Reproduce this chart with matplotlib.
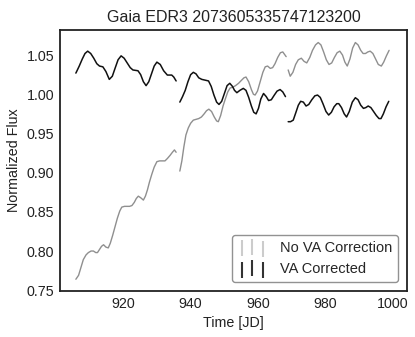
import matplotlib
matplotlib.use('Agg')
import matplotlib.pyplot as plt

# light curve, three sectors each
gray_t1 = [906.0, 906.8, 907.5, 908.2, 909.0, 909.7, 910.5, 911.2, 911.9, 912.4, 913.0, 913.6, 914.2,
           914.9, 915.6, 916.2, 916.9, 917.6, 918.3, 919.0, 919.6, 920.4, 921.1, 921.9, 922.6, 923.3,
           923.9, 924.5, 925.2, 926.0, 926.6, 927.2, 927.8, 928.5, 929.2, 930.0, 930.8, 931.6, 932.4,
           933.1, 933.9, 934.6, 935.2, 935.7]
gray_f1 = [0.764, 0.769, 0.779, 0.789, 0.795, 0.798, 0.800, 0.800, 0.798, 0.798, 0.802, 0.806, 0.808,
           0.805, 0.804, 0.810, 0.820, 0.831, 0.842, 0.851, 0.856, 0.857, 0.857, 0.857, 0.858, 0.862,
           0.867, 0.870, 0.868, 0.865, 0.870, 0.878, 0.888, 0.898, 0.907, 0.914, 0.915, 0.915, 0.915,
           0.918, 0.922, 0.926, 0.929, 0.926]
gray_t2 = [936.8, 937.4, 938.0, 938.6, 939.3, 940.0, 940.8, 941.6, 942.4, 943.2, 944.0, 944.7, 945.4,
           946.2, 947.0, 947.7, 948.2, 948.9, 949.6, 950.2, 951.0, 951.7, 952.5, 953.3, 954.2, 955.1,
           955.8, 956.4, 957.2, 958.0, 958.6, 959.1, 959.8, 960.6, 961.4, 962.1, 962.8, 963.6, 964.3,
           965.0, 965.8, 966.6, 967.3, 968.3]
gray_f2 = [0.902, 0.915, 0.933, 0.948, 0.957, 0.963, 0.967, 0.968, 0.969, 0.971, 0.975, 0.979, 0.981,
           0.978, 0.971, 0.966, 0.965, 0.973, 0.985, 0.993, 1.003, 1.008, 1.009, 1.011, 1.014, 1.018,
           1.021, 1.022, 1.016, 1.006, 1.000, 0.999, 1.004, 1.016, 1.028, 1.035, 1.036, 1.033, 1.034,
           1.039, 1.047, 1.053, 1.054, 1.048]
gray_t3 = [968.9, 969.5, 970.3, 971.1, 971.9, 972.8, 973.6, 974.4, 975.3, 976.1, 977.0, 977.8, 978.6,
           979.4, 980.2, 981.0, 981.8, 982.6, 983.4, 984.2, 985.0, 985.7, 986.4, 987.2, 988.0, 988.8,
           989.6, 990.4, 991.1, 991.8, 992.5, 993.2, 994.0, 994.8, 995.6, 996.5, 997.2, 998.0, 998.8]
gray_f3 = [1.031, 1.023, 1.028, 1.038, 1.044, 1.046, 1.042, 1.040, 1.047, 1.056, 1.063, 1.066, 1.063,
           1.054, 1.044, 1.038, 1.040, 1.047, 1.053, 1.055, 1.050, 1.041, 1.036, 1.045, 1.059, 1.066,
           1.063, 1.056, 1.052, 1.052, 1.054, 1.055, 1.052, 1.045, 1.038, 1.036, 1.041, 1.049, 1.056]

black_t1 = [906.0, 907.0, 907.9, 908.7, 909.5, 910.4, 911.3, 912.2, 913.0, 914.0, 914.9, 915.9, 916.8,
            917.6, 918.5, 919.4, 920.3, 921.2, 922.1, 922.9, 924.4, 925.2, 926.0, 926.8, 927.6, 928.4,
            929.2, 930.0, 931.0, 932.0, 933.1, 934.4, 935.0, 935.7]
black_f1 = [1.027, 1.036, 1.045, 1.052, 1.055, 1.052, 1.046, 1.039, 1.036, 1.035, 1.029, 1.019, 1.023,
            1.033, 1.044, 1.049, 1.046, 1.040, 1.034, 1.031, 1.030, 1.025, 1.016, 1.011, 1.016, 1.026,
            1.036, 1.041, 1.038, 1.030, 1.0245, 1.0245, 1.022, 1.017]
black_t2 = [936.8, 937.6, 938.4, 939.2, 940.0, 940.8, 941.6, 942.4, 943.3, 944.3, 945.3, 946.1, 946.9,
            947.7, 948.4, 949.2, 950.0, 950.8, 951.6, 952.4, 953.0, 953.7, 954.6, 955.6, 956.4, 957.2,
            958.0, 958.7, 959.4, 960.1, 960.8, 961.6, 962.4, 963.1, 963.9, 964.8, 965.6, 966.5, 967.3,
            968.1]
black_f2 = [0.990, 0.997, 1.005, 1.016, 1.025, 1.028, 1.026, 1.021, 1.019, 1.018, 1.017, 1.010, 0.999,
            0.990, 0.987, 0.991, 1.001, 1.011, 1.014, 1.010, 1.005, 1.002, 1.005, 1.0075, 1.005, 0.996,
            0.985, 0.977, 0.975, 0.982, 0.994, 1.001, 0.997, 0.992, 0.993, 0.999, 1.004, 1.006, 1.003,
            0.997]
black_t3 = [968.9, 969.6, 970.4, 971.2, 971.9, 972.6, 973.4, 974.2, 975.0, 975.9, 976.8, 977.6, 978.4,
            979.2, 980.1, 980.9, 981.7, 982.5, 983.3, 983.9, 984.7, 985.5, 986.2, 987.0, 987.9, 988.8,
            989.6, 990.4, 991.2, 991.9, 992.6, 993.4, 994.2, 995.0, 995.8, 996.4, 997.1, 997.9, 998.7]
black_f3 = [0.965, 0.965, 0.967, 0.977, 0.986, 0.991, 0.990, 0.985, 0.987, 0.993, 0.998, 0.999, 0.996,
            0.988, 0.978, 0.9735, 0.977, 0.984, 0.988, 0.988, 0.983, 0.975, 0.971, 0.978, 0.990, 0.9956,
            0.993, 0.986, 0.982, 0.983, 0.985, 0.983, 0.978, 0.973, 0.969, 0.969, 0.975, 0.984, 0.991]

title = 'Gaia EDR3 2073605335747123200'
labels = ['No VA Correction', 'VA Corrected']

plt.style.use('seaborn-v0_8-white')
plt.rcParams['font.family'] = ['Liberation Sans', 'DejaVu Sans']

fig = plt.figure(figsize=(4.15, 3.37), dpi=100)
ax = fig.add_axes([0.1446, 0.1365, 0.8361, 0.7745])

for t, f in [(gray_t1, gray_f1), (gray_t2, gray_f2), (gray_t3, gray_f3)]:
    ax.plot(t, f, color='#8f8f8f', lw=1.0)
for t, f in [(black_t1, black_f1), (black_t2, black_f2), (black_t3, black_f3)]:
    ax.plot(t, f, color='#111111', lw=1.1)

# legend proxies, the original used vertical tick markers
ax.scatter([], [], marker='|', s=130, color='gray', alpha=0.4, label=labels[0])
ax.scatter([], [], marker='|', s=130, color='black', alpha=0.8, label=labels[1])
leg = ax.legend(loc='lower right', scatterpoints=3, frameon=True, fontsize=10.5,
                borderaxespad=0.6, handletextpad=0.9)
leg.get_frame().set_edgecolor('#777777')

ax.set_xlim(901.3, 1004.1)
ax.set_ylim(0.749, 1.082)
ax.set_xticks([920, 940, 960, 980, 1000])
ax.set_yticks([0.75, 0.80, 0.85, 0.90, 0.95, 1.00, 1.05])
ax.tick_params(labelsize=10.3, length=0, pad=4, labelcolor='#222222')
for sp in ax.spines.values():
    sp.set_color('#222222')
    sp.set_linewidth(1.3)

ax.set_xlabel('Time [JD]', fontsize=10.3, color='#222222')
ax.set_ylabel('Normalized Flux', fontsize=10.3, color='#222222')
ax.set_title(title, fontsize=11.5, color='#222222')

fig.savefig('out.png', dpi=100)
